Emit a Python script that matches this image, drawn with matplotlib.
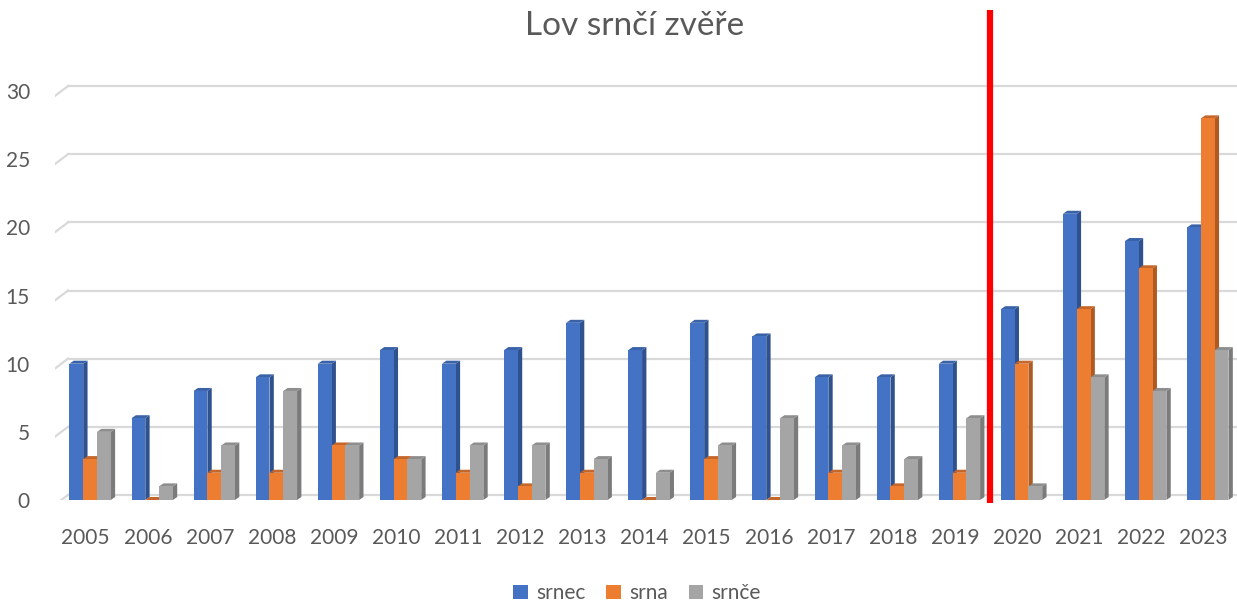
import matplotlib
matplotlib.use("Agg")
import matplotlib.pyplot as plt
from matplotlib.patches import Polygon, Patch
import numpy as np

# data
roky = ['2005', '2006', '2007', '2008', '2009', '2010', '2011', '2012', '2013', '2014',
        '2015', '2016', '2017', '2018', '2019', '2020', '2021', '2022', '2023']
srnec = [10, 6, 8, 9, 10, 11, 10, 11, 13, 11, 13, 12, 9, 9, 10, 14, 21, 19, 20]
srna = [3, 0, 2, 2, 4, 3, 2, 1, 2, 0, 3, 0, 2, 1, 2, 10, 14, 17, 28]
srnce = [5, 1, 4, 8, 4, 3, 4, 4, 3, 2, 4, 6, 4, 3, 6, 1, 9, 8, 11]
serie = ['srnec', 'srna', 'srnče']
hranice = 14.54  # cervena cara mezi 2019 a 2020

plt.rcParams['font.family'] = ['Lato', 'DejaVu Sans']

barvy = ['#4472C4', '#ED7D31', '#A5A5A5']
bocni = ['#2F528F', '#AE5A21', '#7B7B7B']
horni = ['#3A62A8', '#C5662A', '#8E8E8E']

W, H = 1237, 603
fig = plt.figure(figsize=(W / 100, H / 100), dpi=100)
ax = fig.add_axes([55 / W, (H - 500) / H, (W - 55) / W, 490 / H])
ax.set_xlim(-0.515, 18.52)
ax.set_ylim(0, 35.95)
for s in ax.spines.values():
    s.set_visible(False)

x = np.arange(len(roky))
bw = 0.222
dx, dy = 0.07, 0.22  # hloubka 3D

# mrizka (zadni stena) s diagonalou
x0 = -0.515
for v in range(0, 31, 5):
    ax.plot([x0 + 0.21, 18.52], [v + 0.37, v + 0.37], color='#D9D9D9', lw=1.6, zorder=0)
    ax.plot([x0, x0 + 0.21], [v - 0.35, v + 0.37], color='#D9D9D9', lw=1.6, zorder=0)

for k, data in enumerate([srnec, srna, srnce]):
    for i, h in enumerate(data):
        xl = x[i] + (k - 1) * bw - bw / 2 + 0.05
        xr = xl + bw
        ax.add_patch(Polygon([(xr, 0), (xr + dx, dy), (xr + dx, h + dy), (xr, h)],
                             closed=True, fc=bocni[k], ec='none', zorder=2 + k))
        ax.add_patch(Polygon([(xl, h), (xl + dx, h + dy), (xr + dx, h + dy), (xr, h)],
                             closed=True, fc=horni[k], ec='none', zorder=2 + k))
        ax.bar(xl, h, width=bw, align='edge', color=barvy[k], zorder=2 + k)

ax.plot([hranice, hranice], [-0.25, 35.95], color='#FF0000', lw=4.5, zorder=10,
        clip_on=False, solid_capstyle='butt')

ax.set_xticks(x - 0.02)
ax.set_xticklabels(roky)
ax.set_yticks(range(0, 31, 5))
ax.tick_params(axis='x', length=0, pad=20, labelsize=15, labelcolor='#595959')
ax.tick_params(axis='y', length=0, pad=18, labelsize=15, labelcolor='#595959')

fig.text(0.513, 0.957, 'Lov srnčí zvěře', ha='center', va='center', fontsize=24, color='#595959')

handles = [Patch(facecolor=barvy[k], label=serie[k]) for k in range(3)]
fig.legend(handles=handles, loc='center', bbox_to_anchor=(0.515, 0.016), ncol=3, frameon=False,
           fontsize=15, handlelength=0.7, handleheight=0.7, handletextpad=0.4, columnspacing=1.0,
           labelcolor='#595959')

fig.savefig('out.png', dpi=100)
